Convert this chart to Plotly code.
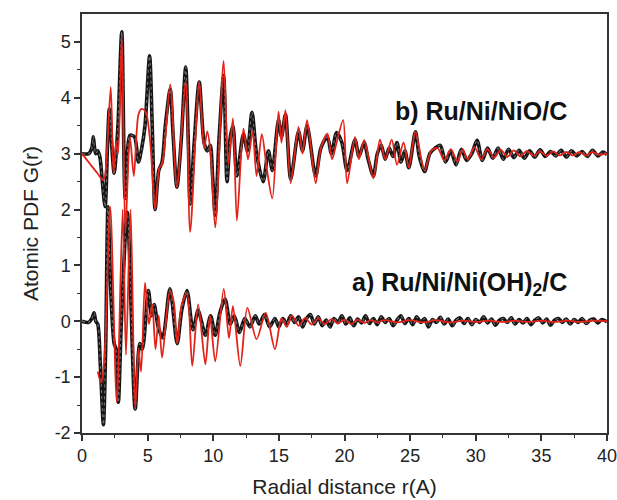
import plotly.graph_objects as go

# ---- data ----
# b) Ru/Ni/NiO/C  (offset +3)  experimental
b_exp_r = [0.0, 0.5, 0.75, 0.86, 0.95, 1.05, 1.2, 1.37, 1.55, 1.76, 1.95, 2.08, 2.25, 2.45, 2.6, 2.75,
           3.03, 3.3, 3.66, 4.0, 4.3, 4.55, 4.8, 5.15, 5.35, 5.57, 5.85, 6.1, 6.35, 6.72, 6.95, 7.23,
           7.55, 7.9, 8.1, 8.24, 8.55, 8.93, 9.3, 9.55, 9.77, 9.95, 10.15, 10.45, 10.79, 11.05, 11.3,
           11.5, 11.8, 12.3, 12.6, 12.95, 13.3, 13.8, 14.2, 14.5, 14.97, 15.2, 15.5, 15.9, 16.5, 16.8,
           17.15, 17.8, 18.2, 18.7, 19.0, 19.4, 19.8, 20.2, 20.8, 21.1, 21.5, 21.8, 22.2, 22.5, 22.8,
           23.1, 23.4, 23.7, 24.0, 24.3, 24.6, 24.9, 25.4, 25.7, 26.1, 26.5, 26.9, 27.3, 27.7, 28.1,
           28.5, 28.9, 29.3, 29.7, 30.1, 30.5, 30.9, 31.3, 31.7, 32.1, 32.5, 32.9, 33.3, 33.7, 34.1,
           34.5, 34.9, 35.3, 35.7, 36.1, 36.5, 36.9, 37.3, 37.7, 38.1, 38.5, 38.9, 39.3, 39.7, 40.0]
b_exp_g = [3.0, 3.0, 3.1, 3.3, 3.12, 3.0, 3.05, 2.93, 2.5, 2.05, 3.2, 3.8, 3.2, 2.65, 3.0, 3.55,
           5.18, 2.2, 3.33, 3.3, 2.85, 3.1, 3.5, 4.75, 3.5, 2.0, 2.7, 2.85, 3.5, 4.15, 3.3, 2.4,
           3.2, 4.55, 3.2, 2.1, 3.2, 4.28, 3.2, 3.05, 3.15, 2.6, 1.9, 3.3, 4.4, 2.5, 3.3,
           3.5, 2.6, 3.35, 3.05, 3.74, 3.0, 2.5, 3.05, 2.7, 3.6, 3.3, 3.7, 2.55, 3.4, 3.05,
           3.5, 2.6, 3.1, 3.3, 3.0, 3.38, 3.2, 2.7, 3.25, 2.95, 3.2, 2.9, 2.6, 3.0, 3.15,
           2.9, 3.1, 2.95, 3.2, 2.85, 3.05, 2.75, 3.39, 2.95, 2.68, 3.0, 3.1, 3.15, 2.85, 3.05,
           2.8, 3.08, 2.88, 3.0, 3.24, 2.88, 3.1, 2.92, 3.1, 2.9, 3.08, 2.93, 3.06, 2.92, 3.05,
           2.94, 3.07, 2.95, 3.04, 2.96, 3.06, 2.94, 3.05, 2.96, 3.04, 2.95, 3.06, 2.96, 3.03, 2.98]

# b) fit
b_fit_r = [0.0, 0.4, 0.8, 1.2, 1.6, 1.75, 2.19, 2.4, 2.6, 2.75, 3.03, 3.3, 3.65, 3.95, 4.3, 4.55,
           4.85, 5.2, 5.57, 5.9, 6.1, 6.72, 7.23, 7.9, 8.24, 8.93, 9.3, 9.55, 9.8, 10.15, 10.79,
           11.15, 11.5, 11.8, 12.3, 12.65, 13.0, 13.3, 13.7, 14.1, 14.5, 14.97, 15.2, 15.5, 15.9,
           16.5, 16.8, 17.15, 17.8, 18.2, 18.7, 19.05, 19.4, 19.9, 20.2, 20.8, 21.1, 21.5, 22.2,
           22.7, 23.1, 23.6, 24.0, 24.5, 24.9, 25.4, 26.1, 26.6, 27.1, 27.6, 28.1, 28.6, 29.0,
           29.4, 29.9, 30.4, 30.9, 31.4, 31.9, 32.4, 32.9, 33.4, 33.9, 34.4, 34.9, 35.4, 35.9,
           36.4, 36.9, 37.4, 37.9, 38.4, 38.9, 39.4, 40.0]
b_fit_g = [3.0, 2.88, 2.76, 2.64, 2.52, 2.6, 4.19, 2.65, 3.2, 3.0, 5.1, 1.6, 3.3, 2.6, 3.7, 3.8,
           3.75, 3.2, 2.0, 2.75, 2.8, 4.24, 2.4, 4.3, 1.6, 4.28, 3.1, 3.4, 3.0, 1.68, 4.66,
           2.8, 3.63, 1.8, 3.45, 2.9, 3.4, 2.6, 3.35, 2.7, 2.2, 3.75, 3.2, 3.78, 2.47,
           3.48, 3.0, 3.6, 2.47, 3.1, 3.36, 2.9, 3.2, 3.6, 2.47, 3.3, 2.9, 3.24, 2.56,
           3.25, 2.9, 3.25, 2.8, 3.2, 2.75, 3.39, 2.7, 3.05, 3.1, 2.88, 3.08, 2.86, 3.08,
           2.9, 3.12, 2.9, 3.08, 2.93, 3.07, 2.94, 3.06, 2.95, 3.05, 2.96, 3.04, 2.96, 3.04,
           2.97, 3.03, 2.97, 3.03, 2.97, 3.03, 2.98, 3.0]

# a) Ru/Ni/Ni(OH)2/C  (offset 0)  experimental
a_exp_r = [0.0, 0.5, 0.75, 0.92, 1.05, 1.2, 1.4, 1.63, 1.8, 1.98, 2.2, 2.45, 2.6, 2.77, 3.0, 3.45,
           4.05, 4.4, 4.6, 5.06, 5.3, 5.5, 5.8, 6.15, 6.7, 7.25, 7.6, 8.0, 8.45, 8.85, 9.1, 9.4,
           9.8, 10.15, 10.5, 10.9, 11.3, 11.6, 12.0, 12.4, 12.8, 13.2, 13.5, 13.9, 14.3, 14.7,
           15.0, 15.3, 15.6, 15.9, 16.2, 16.5, 16.8, 17.1, 17.4, 17.7, 18.0, 18.3, 18.6, 18.9,
           19.2, 19.5, 19.8, 20.1, 20.4, 20.7, 21.0, 21.3, 21.6, 21.9, 22.2, 22.5, 22.8, 23.1,
           23.4, 23.7, 24.0, 24.3, 24.6, 24.9, 25.2, 25.5, 25.8, 26.1, 26.4, 26.7, 27.0, 27.3,
           27.6, 27.9, 28.2, 28.5, 28.8, 29.1, 29.4, 29.7, 30.0, 30.3, 30.6, 30.9, 31.2, 31.5,
           31.8, 32.1, 32.4, 32.7, 33.0, 33.3, 33.6, 33.9, 34.2, 34.5, 34.8, 35.1, 35.4, 35.7,
           36.0, 36.3, 36.6, 36.9, 37.2, 37.5, 37.8, 38.1, 38.4, 38.7, 39.0, 39.3, 39.6, 40.0]
a_exp_g = [0.0, -0.02, 0.05, 0.15, 0.0, -0.05, -0.8, -1.85, -0.5, 2.05, 0.5, -0.4, -0.5, -1.45, 0.0, 1.95,
           -1.57, -0.4, -0.5, 0.55, 0.1, 0.3, -0.1, -0.3, 0.58, -0.4, 0.2, 0.55, -0.15, 0.2, 0.0, -0.25,
           0.1, -0.25, 0.15, 0.4, -0.05, 0.1, -0.2, 0.05, -0.1, 0.1, -0.05, 0.12, -0.1, 0.05,
           -0.1, 0.05, -0.05, 0.1, -0.02, 0.08, -0.1, 0.05, 0.12, -0.05, 0.08, -0.08, 0.02, -0.1,
           0.05, -0.02, 0.1, -0.05, 0.06, -0.08, 0.04, -0.03, 0.1, -0.04, 0.05, -0.06, 0.08, -0.02,
           0.05, -0.08, 0.02, 0.1, -0.04, 0.05, -0.06, 0.08, -0.02, 0.05, -0.1, 0.03, -0.02, 0.07,
           -0.05, 0.04, -0.08, 0.02, 0.06, -0.04, 0.05, -0.06, 0.03, -0.02, 0.08, -0.03, 0.04, -0.07,
           0.02, 0.05, -0.02, 0.06, -0.05, 0.03, -0.03, 0.05, -0.06, 0.02, 0.06, -0.03, 0.04, -0.07,
           0.02, 0.05, -0.02, 0.04, -0.05, 0.03, -0.02, 0.05, -0.04, 0.02, 0.04, -0.03, 0.03, -0.01]

# a) fit
a_fit_r = [1.2, 1.45, 1.7, 2.15, 2.65, 3.1, 3.35, 3.7, 4.05, 4.3, 4.5, 4.8, 5.1, 5.35, 5.6, 5.85,
           6.1, 6.7, 7.0, 7.25, 7.6, 8.0, 8.4, 8.85, 9.4, 9.75, 10.15, 10.8, 11.2, 11.5, 12.06,
           12.6, 13.3, 14.0, 14.7, 15.2, 15.6, 16.0, 16.5, 17.0, 17.5, 18.0, 18.5, 19.0, 19.5,
           20.0, 20.5, 21.0, 21.5, 22.0, 22.5, 23.0, 24.0, 25.0, 26.0, 27.0, 28.0, 29.0, 30.0,
           31.0, 32.0, 33.0, 34.0, 35.0, 36.0, 37.0, 38.0, 39.0, 40.0]
a_fit_g = [-0.9, -1.1, -0.7, 2.05, -1.45, 2.0, -0.6, 2.0, -1.57, -0.5, -0.9, 0.69, -0.05, 0.3, -0.5, 0.1,
           -0.65, 0.55, 0.34, -0.4, 0.3, 0.5, -0.8, 0.3, -0.77, 0.1, -0.72, 0.58, -0.3, 0.27, -0.8,
           0.24, -0.32, 0.15, -0.5, 0.05, -0.1, 0.1, -0.08, 0.06, -0.06, 0.05, -0.05, 0.04, -0.04,
           0.03, -0.05, 0.03, -0.03, 0.02, -0.02, 0.02, -0.02, 0.02, -0.02, 0.02, -0.02, 0.01, -0.01,
           0.01, -0.01, 0.01, -0.01, 0.01, -0.01, 0.01, -0.01, 0.01, 0.0]

x_tick_vals = [0, 5, 10, 15, 20, 25, 30, 35, 40]
x_tick_text = ["0", "5", "10", "15", "20", "25", "30", "35", "40"]
y_tick_vals = [-2, -1, 0, 1, 2, 3, 4, 5]
y_tick_text = ["-2", "-1", "0", "1", "2", "3", "4", "5"]

label_b = "<b>b) Ru/Ni/NiO/C</b>"
label_a = "<b>a) Ru/Ni/Ni(OH)<sub>2</sub>/C</b>"

BLACK = "#151515"
RED = "#e2231a"
FONT = "Liberation Sans, Arial, sans-serif"

fig = go.Figure()
for r, g in [(a_exp_r, a_exp_g), (b_exp_r, b_exp_g)]:
    fig.add_trace(go.Scatter(x=r, y=g, mode="lines",
                             line=dict(color=BLACK, width=3.6, shape="spline", smoothing=0.8),
                             showlegend=False, hoverinfo="skip"))
    fig.add_trace(go.Scatter(x=r, y=g, mode="lines",
                             line=dict(color="#707070", width=1.1, dash="dot", shape="spline", smoothing=0.8),
                             showlegend=False, hoverinfo="skip"))
for r, g in [(a_fit_r, a_fit_g), (b_fit_r, b_fit_g)]:
    fig.add_trace(go.Scatter(x=r, y=g, mode="lines",
                             line=dict(color=RED, width=1.8, shape="spline", smoothing=0.8),
                             showlegend=False, hoverinfo="skip"))

fig.add_annotation(x=37.1, y=3.76, text=label_b, showarrow=False, xanchor="right", yanchor="middle",
                   font=dict(family=FONT, size=25, color="#111"))
fig.add_annotation(x=37.1, y=0.66, text=label_a, showarrow=False, xanchor="right", yanchor="middle",
                   font=dict(family=FONT, size=25, color="#111"))

axis_common = dict(showline=True, linecolor="#333", linewidth=1.5, mirror=True,
                   ticks="outside", ticklen=6, tickwidth=1.5, tickcolor="#333",
                   showgrid=False, zeroline=False, automargin=False, tickmode="array",
                   ticklabeloverflow="allow",
                   tickfont=dict(family=FONT, size=18, color="#222"))
fig.update_xaxes(range=[0, 40], tickvals=x_tick_vals, ticktext=x_tick_text,
                 minor=dict(tickvals=[2.5, 7.5, 12.5, 17.5, 22.5, 27.5, 32.5, 37.5], ticks="outside",
                            ticklen=3.5, tickwidth=1.2, tickcolor="#333"),
                 title=dict(text="Radial distance r(A)", font=dict(family=FONT, size=21, color="#222"), standoff=14),
                 **axis_common)
fig.update_yaxes(range=[-2, 5.5], tickvals=y_tick_vals, ticktext=y_tick_text,
                 minor=dict(tickvals=[-1.5, -0.5, 0.5, 1.5, 2.5, 3.5, 4.5], ticks="outside",
                            ticklen=3.5, tickwidth=1.2, tickcolor="#333"),
                 title=dict(text="Atomic PDF G(r)", font=dict(family=FONT, size=21, color="#222"), standoff=10),
                 **axis_common)
fig.update_layout(width=617, height=500, margin=dict(l=82, r=10, t=14, b=67),
                  paper_bgcolor="white", plot_bgcolor="white")
# remove the default page margin so the 617x500 figure fills the window exactly
fig.write_html("out.html", config={"displayModeBar": False},
               post_script="document.body.style.margin='0';document.body.style.overflow='hidden';")
